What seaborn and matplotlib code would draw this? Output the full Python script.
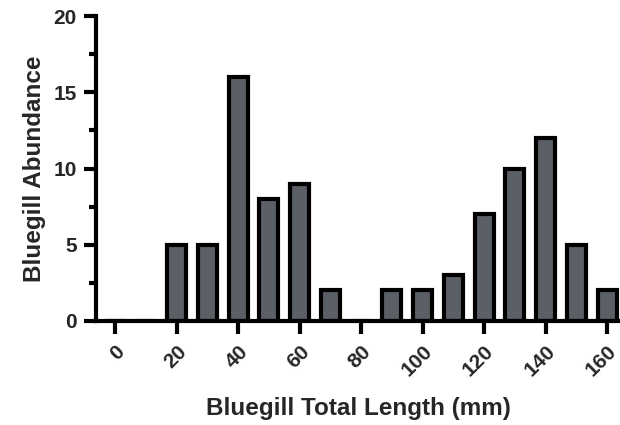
import numpy as np
import pandas as pd
import seaborn as sns
import matplotlib.pyplot as plt

lengths = [0, 10, 20, 30, 40, 50, 60, 70, 80, 90, 100, 110, 120, 130, 140, 150, 160]
abundance = [0, 0, 5, 5, 16, 8, 9, 2, 0, 2, 2, 3, 7, 10, 12, 5, 2]
tick_labels = ['0', '20', '40', '60', '80', '100', '120', '140', '160']

df = pd.DataFrame({'length': [str(v) for v in lengths], 'abundance': abundance})

sns.set_style('ticks')
plt.rcParams['font.family'] = ['Liberation Sans', 'DejaVu Sans']
plt.rcParams['font.weight'] = 'bold'

fig = plt.figure(figsize=(6.2, 4.25), dpi=100)
ax = fig.add_axes([0.155, 0.245, 0.845, 0.717])

sns.barplot(data=df, x='length', y='abundance', order=df['length'],
            color='#5b5f66', saturation=1, edgecolor='black', linewidth=3,
            width=0.62, ax=ax)

ax.set_xlim(-0.62, 16.42)
ax.set_ylim(0, 20)

ax.set_xticks(range(0, 17, 2))
ax.set_xticklabels(tick_labels, rotation=45, ha='right', va='top',
                   rotation_mode='anchor')
ax.set_yticks([0, 5, 10, 15, 20])
ax.set_yticks([2.5, 7.5, 12.5, 17.5], minor=True)

for lab in ax.get_xticklabels() + ax.get_yticklabels():
    lab.set_fontsize(15)
    lab.set_fontweight('bold')

ax.tick_params(axis='both', which='major', width=3, length=9, color='black', pad=5)
ax.tick_params(axis='y', which='minor', width=3, length=5, color='black')
ax.tick_params(axis='x', pad=6)

sns.despine(ax=ax)
for side in ['left', 'bottom']:
    ax.spines[side].set_linewidth(3)
    ax.spines[side].set_color('black')
    ax.spines[side].set_clip_on(False)

ax.set_xlabel('Bluegill Total Length (mm)', fontsize=17.5, fontweight='bold', labelpad=12)
ax.set_ylabel('Bluegill Abundance', fontsize=17.5, fontweight='bold', labelpad=5)

fig.savefig('out.png', dpi=100)
